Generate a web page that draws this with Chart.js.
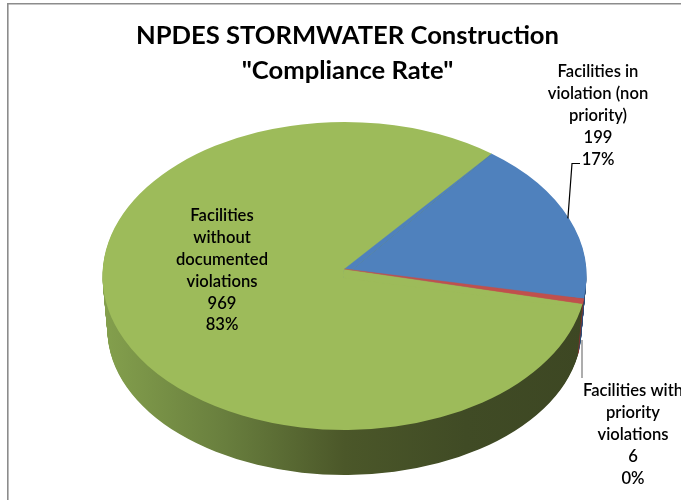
<!DOCTYPE html>
<html>
<head>
<meta charset="utf-8">
<style>html,body{margin:0;padding:0;background:#fff}canvas{display:block}</style>
<script src="https://cdn.jsdelivr.net/npm/chart.js@4"></script>
</head>
<body>
<canvas id="c" width="681" height="500"></canvas>
<script>
const titleLines = ['NPDES STORMWATER Construction', '"Compliance Rate"'];
const categories = ['Facilities in violation (non priority)', 'Facilities with priority violations', 'Facilities without documented violations'];
const values = [199, 6, 969];
const percents = ['17%', '0%', '83%'];
const labelLines = [
  ['Facilities in', 'violation (non', 'priority)'],
  ['Facilities with', 'priority', 'violations'],
  ['Facilities', 'without', 'documented', 'violations']
];
const sliceColors = ['#4f81bd', '#c0504d', '#9dbb5a'];
const sideColors = ['#2f5078', '#7e322f', null];

const view = {cx: 344.5, cy: 276, rx: 242, ry: 154, depth: 54, shrinkX: 5, shrinkY: 9, apexLift: 7};
const labelPos = [{x: 598, y: 72, h: 21.8}, {x: 633, y: 391, h: 21.8}, {x: 222, y: 216, h: 21.8}];

function rim(a) { return [view.cx + view.rx * Math.cos(a), view.cy + view.ry * Math.sin(a)]; }
function poly(ctx, pts, color) {
  ctx.beginPath();
  pts.forEach((p, i) => i ? ctx.lineTo(p[0], p[1]) : ctx.moveTo(p[0], p[1]));
  ctx.closePath();
  ctx.fillStyle = color;
  ctx.fill();
  ctx.strokeStyle = color;
  ctx.lineWidth = 0.4;
  ctx.stroke();
}

const pie3d = {
  id: 'pie3d',
  beforeDraw(chart) {
    const ctx = chart.ctx;
    ctx.save();
    ctx.strokeStyle = '#8c8c8c';
    ctx.lineWidth = 1.6;
    ctx.beginPath();
    ctx.moveTo(7.8, 510);
    ctx.lineTo(7.8, 3.8);
    ctx.lineTo(700, 3.8);
    ctx.stroke();
    ctx.restore();
  },
  beforeDatasetsDraw(chart) {
    const ctx = chart.ctx;
    const arcs = chart.getDatasetMeta(0).data;
    const g = ctx.createLinearGradient(view.cx - view.rx, 0, view.cx + view.rx, 0);
    g.addColorStop(0, '#84a04d');
    g.addColorStop(0.25, '#697f3e');
    g.addColorStop(0.5, '#4b5729');
    g.addColorStop(0.75, '#404b25');
    g.addColorStop(1, '#3d4723');
    ctx.save();
    for (let d = view.depth; d >= 1; d--) {
      const t = d / view.depth;
      arcs.forEach((el, i) => {
        ctx.beginPath();
        ctx.moveTo(view.cx, view.cy + d);
        ctx.ellipse(view.cx, view.cy + d, view.rx - view.shrinkX * t, view.ry - view.shrinkY * t, 0, el.startAngle, el.endAngle);
        ctx.closePath();
        ctx.fillStyle = sideColors[i] || g;
        ctx.fill();
      });
    }
    ctx.restore();
    const e = arcs[0];
    ctx.save();
    ctx.translate(view.cx, view.cy);
    ctx.scale(view.rx / e.outerRadius, view.ry / e.outerRadius);
    ctx.translate(-e.x, -e.y);
  },
  afterDatasetsDraw(chart) {
    const ctx = chart.ctx;
    ctx.restore();
    const arcs = chart.getDatasetMeta(0).data;
    const apex = [view.cx, view.cy - view.apexLift];
    const base = [view.cx, view.cy + 2];
    const a0 = rim(arcs[0].startAngle), a1 = rim(arcs[0].endAngle), a2 = rim(arcs[1].endAngle);
    ctx.save();
    poly(ctx, [apex, a0, [view.cx - 1, view.cy + 1]], sliceColors[0]);
    poly(ctx, [apex, a2, [a2[0] - 30, a2[1] + 1], base, [view.cx - 2, view.cy]], sliceColors[2]);
    poly(ctx, [apex, a1, a2], sliceColors[1]);
    ctx.restore();
  },
  afterDraw(chart) {
    const ctx = chart.ctx;
    const arcs = chart.getDatasetMeta(0).data;
    const mid0 = rim((arcs[0].startAngle + arcs[0].endAngle) / 2);
    ctx.save();
    ctx.strokeStyle = '#000';
    ctx.lineWidth = 1.2;
    ctx.beginPath();
    ctx.moveTo(mid0[0] - 1, mid0[1]);
    ctx.lineTo(572, 163.5);
    ctx.lineTo(580, 163.5);
    ctx.stroke();
    ctx.strokeStyle = '#8a8a8a';
    ctx.lineWidth = 1.4;
    ctx.beginPath();
    ctx.moveTo(582, 340);
    ctx.lineTo(582, 378);
    ctx.stroke();
    ctx.fillStyle = '#000';
    ctx.font = '600 16.6px Lato';
    ctx.textAlign = 'center';
    ctx.textBaseline = 'middle';
    categories.forEach((c, i) => {
      const lines = labelLines[i].concat([String(values[i]), percents[i]]);
      lines.forEach((s, j) => ctx.fillText(s, labelPos[i].x, labelPos[i].y + j * labelPos[i].h));
    });
    ctx.restore();
  }
};

new Chart(document.getElementById('c'), {
  type: 'pie',
  data: {
    labels: categories,
    datasets: [{data: values, backgroundColor: sliceColors, borderWidth: 0, radius: 242}]
  },
  options: {
    responsive: false,
    animation: false,
    events: [],
    rotation: 37.5,
    layout: {padding: {left: 14, right: 0, top: 0, bottom: 0}},
    plugins: {
      legend: {display: false},
      tooltip: {enabled: false},
      title: {
        display: true,
        text: titleLines,
        fullSize: false,
        color: '#000',
        font: {family: 'Lato', weight: 'bold', size: 25.6, lineHeight: 1.37},
        padding: {top: 18, bottom: 10}
      }
    }
  },
  plugins: [pie3d]
});
</script>
</body>
</html>
